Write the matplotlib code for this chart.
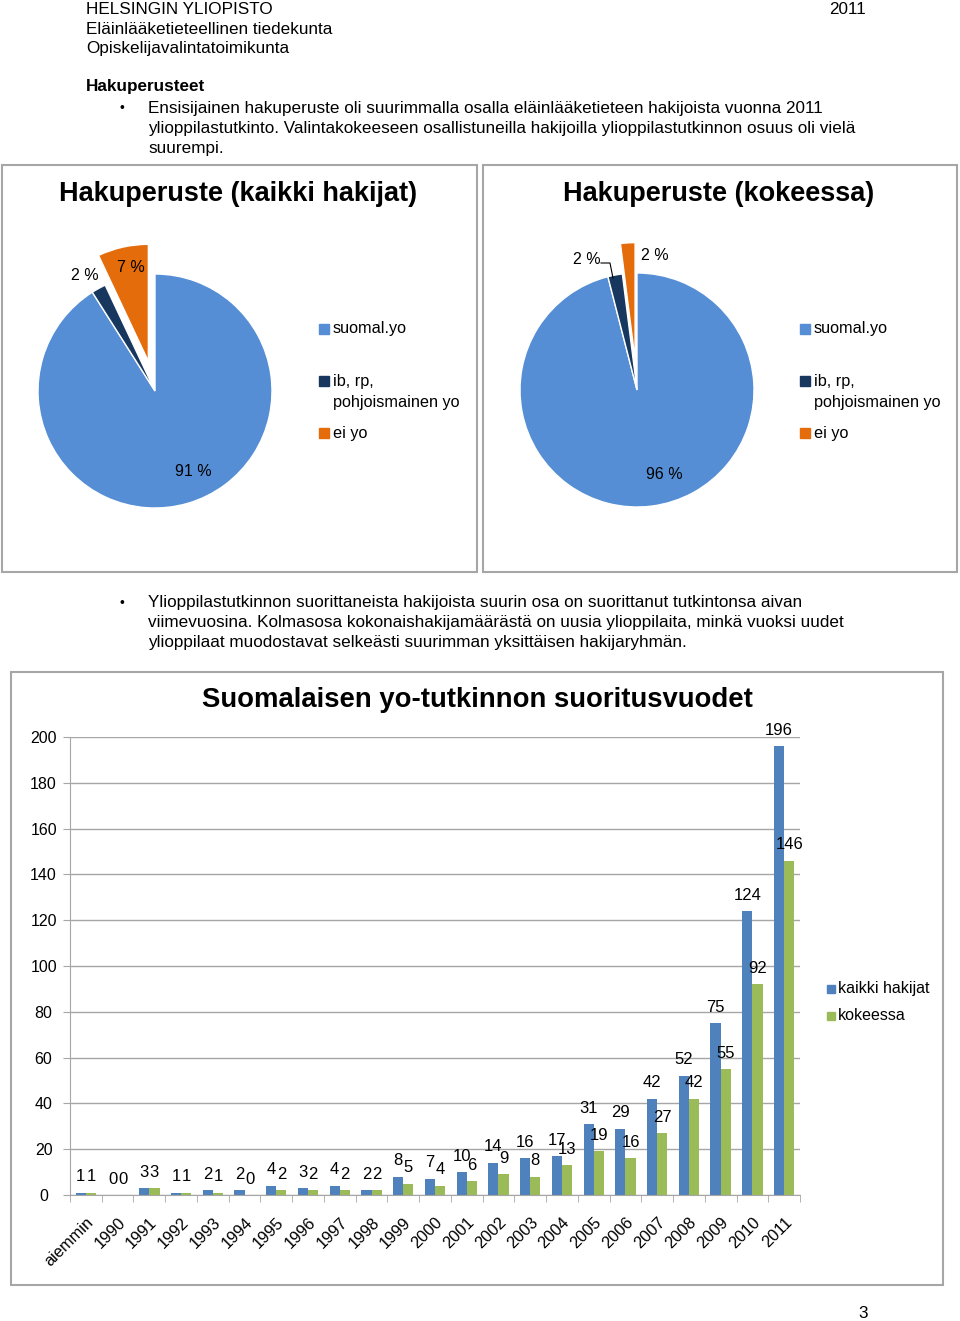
import matplotlib
matplotlib.use("Agg")
import matplotlib.pyplot as plt
from matplotlib.patches import Rectangle
import numpy as np

plt.rcParams['font.family'] = ['Liberation Sans', 'DejaVu Sans']

W, H = 960, 1321

# pie data (%)
pie_labels = ["suomal.yo", "ib, rp,\npohjoismainen yo", "ei yo"]
pie_colors = ["#558ED5", "#17375E", "#E46C0A"]
pie_all = [91, 2, 7]
pie_exam = [96, 2, 2]
pie_titles = ["Hakuperuste (kaikki hakijat)", "Hakuperuste (kokeessa)"]

# bar data
years = ["aiemmin"] + [str(y) for y in range(1990, 2012)]
kaikki = [1, 0, 3, 1, 2, 2, 4, 3, 4, 2, 8, 7, 10, 14, 16, 17, 31, 29, 42, 52, 75, 124, 196]
kokeessa = [1, 0, 3, 1, 1, 0, 2, 2, 2, 2, 5, 4, 6, 9, 8, 13, 19, 16, 27, 42, 55, 92, 146]
bar_colors = ["#4F81BD", "#9BBB59"]
bar_names = ["kaikki hakijat", "kokeessa"]

header = ["HELSINGIN YLIOPISTO", "Eläinlääketieteellinen tiedekunta", "Opiskelijavalintatoimikunta"]
para1 = ["Ensisijainen hakuperuste oli suurimmalla osalla eläinlääketieteen hakijoista vuonna 2011",
         "ylioppilastutkinto. Valintakokeeseen osallistuneilla hakijoilla ylioppilastutkinnon osuus oli vielä",
         "suurempi."]
para2 = ["Ylioppilastutkinnon suorittaneista hakijoista suurin osa on suorittanut tutkintonsa aivan",
         "viimevuosina. Kolmasosa kokonaishakijamäärästä on uusia ylioppilaita, minkä vuoksi uudet",
         "ylioppilaat muodostavat selkeästi suurimman yksittäisen hakijaryhmän."]

fig = plt.figure(figsize=(W / 100, H / 100), dpi=100)
fig.patch.set_facecolor("white")


def fx(x):
    return x / W


def fy(y):
    return 1 - y / H


def txt(x, y, s, **kw):
    kw.setdefault("fontsize", 12.3)
    kw.setdefault("va", "center")
    fig.text(fx(x), fy(y), s, **kw)


def box(x0, y0, x1, y1):
    fig.patches.append(Rectangle((fx(x0), fy(y1)), fx(x1 - x0), (y1 - y0) / H,
                                 transform=fig.transFigure, fill=False,
                                 edgecolor="#A6A6A6", lw=1.5))


# page text
for i, s in enumerate(header):
    txt(86, 9 + 20 * i, s)
txt(829, 9, "2011")
txt(86, 87, "Hakuperusteet", fontweight="bold")
txt(120, 108, "\u2022", fontsize=10)
for i, s in enumerate(para1):
    txt(148, 108 + 20 * i, s)
txt(120, 603, "\u2022", fontsize=10)
for i, s in enumerate(para2):
    txt(148, 603 + 20 * i, s)
txt(863, 1313, "3", ha="center")

# pie panels
box(2, 165, 477, 572)
box(483, 165, 957, 572)
box(11, 672, 943, 1285)

R = 117.0
pies = [(155, 391, pie_all, 238, 320), (637, 390, pie_exam, 719, 801)]
for k, (cx, cy, vals, tx, lx) in enumerate(pies):
    half = 160
    ax = fig.add_axes([fx(cx - half), fy(cy + half), 2 * half / W, 2 * half / H])
    ax.pie(vals, colors=pie_colors, startangle=90, counterclock=False,
           explode=[0, 0, 0.26], wedgeprops=dict(edgecolor="white", linewidth=1))
    ax.set_xlim(-half / R, half / R)
    ax.set_ylim(-half / R, half / R)
    ax.set_aspect("auto")
    ax.axis("off")
    txt(tx, 194, pie_titles[k], fontsize=19.5, fontweight="bold", ha="center")
    # legend
    ly = [329, 381, 433]
    for j, lab in enumerate(pie_labels):
        fig.patches.append(Rectangle((fx(lx - 1), fy(ly[j] + 5)), 10 / W, 10 / H,
                                     transform=fig.transFigure, color=pie_colors[j]))
        lines = lab.split("\n")
        for m, part in enumerate(lines):
            txt(lx + 13, ly[j] + 21 * m, part, fontsize=11.7)

# pie value labels
pct = lambda v: f"{v} %"
txt(85, 275, pct(pie_all[1]), fontsize=11.5, ha="center")
txt(131, 268, pct(pie_all[2]), fontsize=11.5, ha="center")
txt(193, 472, pct(pie_all[0]), fontsize=11.5, ha="center")
txt(587, 260, pct(pie_exam[1]), fontsize=11.5, ha="center")
txt(655, 256, pct(pie_exam[2]), fontsize=11.5, ha="center")
txt(664, 474, pct(pie_exam[0]), fontsize=11.5, ha="center")
fig.lines.append(plt.Line2D([fx(601), fx(610), fx(613)], [fy(263), fy(263), fy(278)],
                            transform=fig.transFigure, color="black", lw=0.8))

# bar chart
bx = fig.add_axes([fx(70), fy(1195), fx(800 - 70), (1195 - 737) / H])
x = np.arange(len(years))
bw = 0.32
bars1 = bx.bar(x - bw / 2, kaikki, bw, color=bar_colors[0], label=bar_names[0])
bars2 = bx.bar(x + bw / 2, kokeessa, bw, color=bar_colors[1], label=bar_names[1])
for bars, vals in [(bars1, kaikki), (bars2, kokeessa)]:
    for b, v in zip(bars, vals):
        bx.annotate(str(v), (b.get_x() + b.get_width() / 2, v), xytext=(0, 11.5),
                    textcoords="offset points", ha="center", va="center", fontsize=12)
bx.set_xlim(-0.5, len(years) - 0.5)
bx.set_ylim(0, 200)
bx.set_yticks(range(0, 201, 20))
bx.yaxis.grid(True, color="#A6A6A6", lw=1)
bx.set_axisbelow(True)
for s in ["top", "right"]:
    bx.spines[s].set_visible(False)
for s in ["left", "bottom"]:
    bx.spines[s].set_color("#A6A6A6")
bx.set_xticks(x)
bx.set_xticklabels(years, rotation=45, ha="right", rotation_mode="anchor", fontsize=11.8)
bx.set_xticks(np.arange(-0.5, len(years), 1), minor=True)
bx.tick_params(axis="x", which="major", length=0, pad=14)
bx.tick_params(axis="x", which="minor", length=5, color="#A6A6A6")
bx.tick_params(axis="y", length=5, color="#A6A6A6", labelsize=11.5, pad=14)
for lab in bx.get_yticklabels():
    lab.set_horizontalalignment("center")
txt(477, 700, "Suomalaisen yo-tutkinnon suoritusvuodet", fontsize=19.8, fontweight="bold", ha="center")

for j, name in enumerate(bar_names):
    yy = 989 + 27 * j
    fig.patches.append(Rectangle((fx(827), fy(yy + 4)), 8 / W, 8 / H,
                                 transform=fig.transFigure, color=bar_colors[j]))
    txt(838, yy, name, fontsize=11.5)

fig.savefig("out.png", dpi=100)
